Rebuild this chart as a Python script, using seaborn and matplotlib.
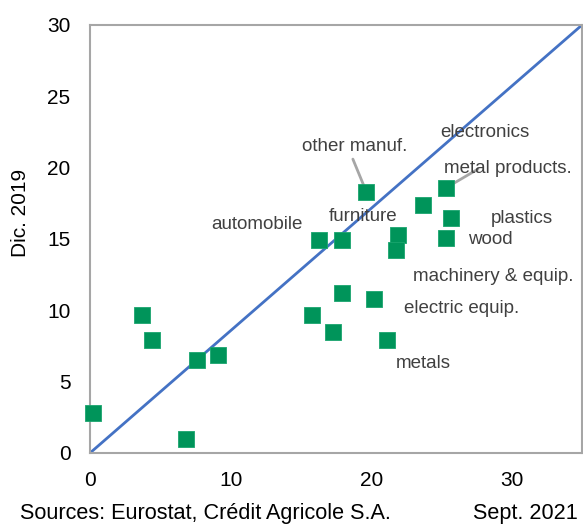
import matplotlib
matplotlib.use("Agg")
import matplotlib.pyplot as plt
import seaborn as sns
import pandas as pd

# Sector growth: Sept. 2021 (x) versus Dic. 2019 (y)
sept_2021 = [0.2, 3.7, 4.4, 7.6, 9.1, 6.8, 15.8, 17.3, 17.9, 16.3, 17.95,
             19.65, 20.2, 21.1, 21.9, 21.8, 23.7, 25.3, 25.7, 25.3]
dic_2019 = [2.8, 9.7, 7.9, 6.5, 6.9, 1.0, 9.7, 8.5, 11.2, 14.9, 14.9,
            18.3, 10.8, 7.9, 15.3, 14.2, 17.4, 18.6, 16.5, 15.1]

# Reference diagonal
diag_x = [0, 35]
diag_y = [0, 30]

# Sector labels with their anchor (left edge, vertical centre) in data units
label_text = ["automobile", "other manuf.", "furniture", "electronics",
              "metal products.", "plastics", "wood", "machinery & equip.",
              "electric equip.", "metals"]
label_x = [8.6, 15.05, 16.95, 24.95, 25.15, 28.5, 26.9, 22.95, 22.35, 21.75]
label_y = [16.05, 21.45, 16.6, 22.45, 19.95, 16.45, 15.0, 12.35, 10.1, 6.3]

# Leader lines (start -> end) for two labels
leader_x = [[18.7, 19.6], [27.6, 25.35]]
leader_y = [[20.6, 18.45], [19.9, 18.6]]

xticks = [0, 10, 20, 30]
yticks = [0, 5, 10, 15, 20, 25, 30]

sns.set_theme(style="white")
plt.rcParams["font.family"] = ["Liberation Sans", "DejaVu Sans"]

fig = plt.figure(figsize=(5.83, 5.24), dpi=100)
ax = fig.add_axes([90 / 583, 1 - 453 / 524, 492 / 583, 428 / 524])

df = pd.DataFrame({"x": sept_2021, "y": dic_2019})
sns.lineplot(x=diag_x, y=diag_y, ax=ax, color="#4472C4", linewidth=2.0,
             zorder=2)
sns.scatterplot(data=df, x="x", y="y", ax=ax, marker="s", s=145,
                color="#00945A", edgecolor="#1aa56e", linewidth=0.6,
                zorder=3, clip_on=False)

for lx, ly in zip(leader_x, leader_y):
    ax.plot(lx, ly, color="#A6A6A6", linewidth=2.0, zorder=2.5)

for t, x, y in zip(label_text, label_x, label_y):
    ax.text(x, y, t, ha="left", va="center", fontsize=13.5, color="#404040",
            zorder=4)

ax.set_xlim(0, 35)
ax.set_ylim(0, 30)
ax.set_xticks(xticks)
ax.set_yticks(yticks)
ax.tick_params(axis="both", length=0, labelsize=15, labelcolor="black")
ax.tick_params(axis="y", pad=14)
ax.tick_params(axis="x", pad=13)
ax.set_xlabel("")
ax.set_ylabel("Dic. 2019", fontsize=15, color="black")
ax.yaxis.set_label_coords(-0.122, 0.56)
for sp in ax.spines.values():
    sp.set_visible(True)
    sp.set_color("#A6A6A6")
    sp.set_linewidth(1.5)
ax.grid(False)

fig.text(20 / 583, 1 - 514 / 524, "Sources: Eurostat, Crédit Agricole S.A.",
         ha="left", va="center", fontsize=15.6, color="black")
fig.text(578 / 583, 1 - 514 / 524, "Sept. 2021",
         ha="right", va="center", fontsize=15.6, color="black")

fig.savefig("out.png", dpi=100)
